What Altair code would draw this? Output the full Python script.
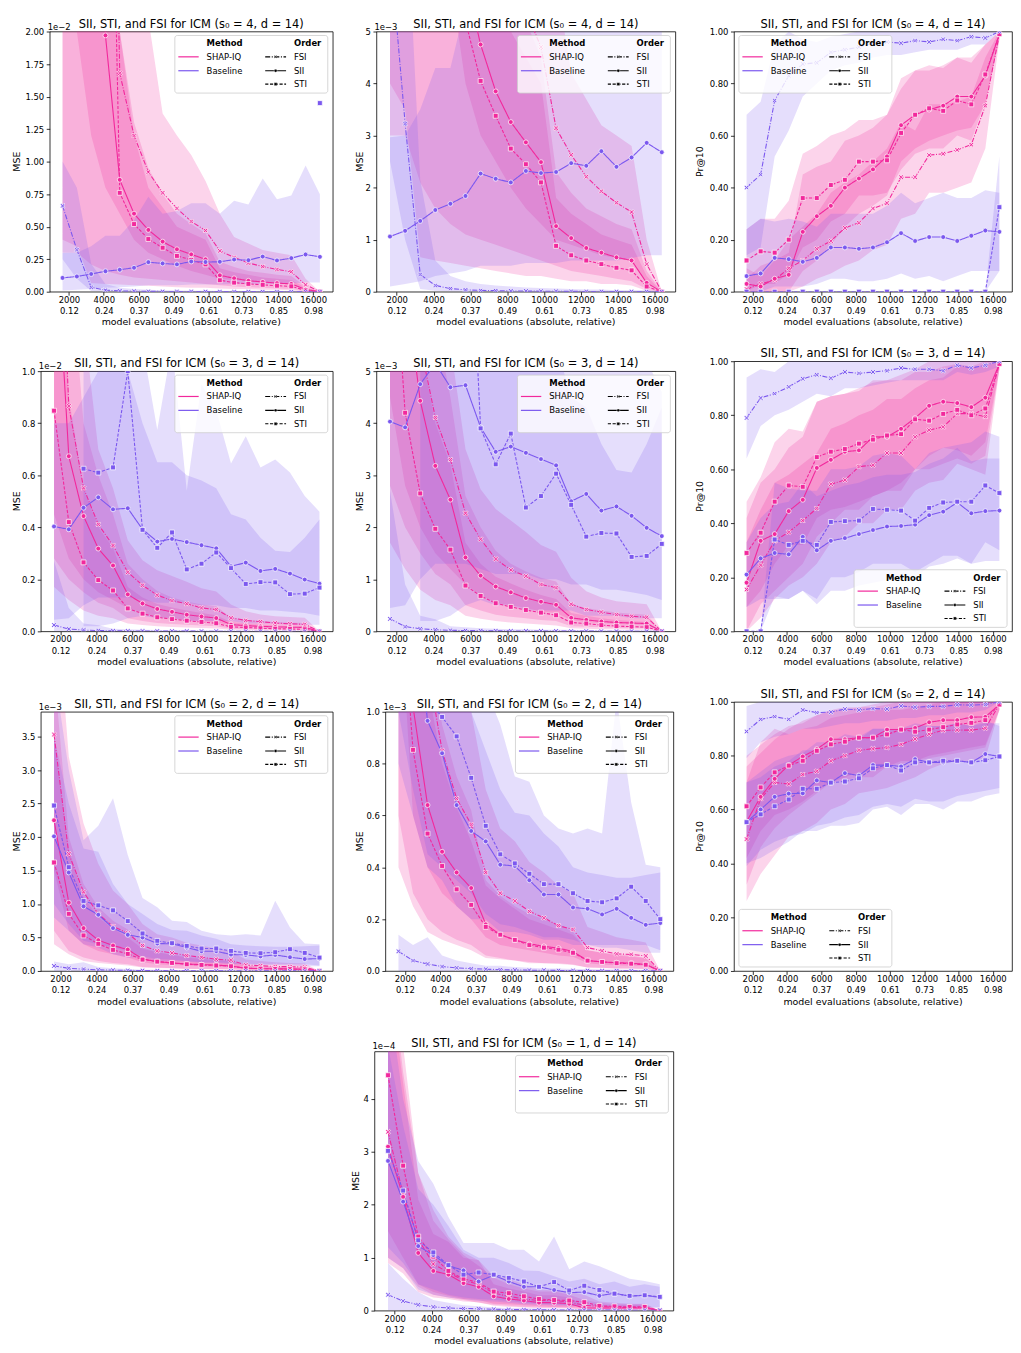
import altair as alt
import pandas as pd

FONT = "DejaVu Sans"
PINK = "#f2289c"
PURPLE = "#7b58ef"

# ---------------- shared axis data ----------------
BUDGETS = [1638, 2458, 3277, 4096, 4915, 5734, 6554, 7373, 8192, 9011,
           9830, 10650, 11469, 12288, 13107, 13926, 14746, 15565, 16384]
X_TICKS = [2000, 4000, 6000, 8000, 10000, 12000, 14000, 16000]
X_TICK_ABS = ["2000", "4000", "6000", "8000", "10000", "12000", "14000", "16000"]
X_TICK_REL = ["0.12", "0.24", "0.37", "0.49", "0.61", "0.73", "0.85", "0.98"]
METHODS = ["SHAP-IQ", "Baseline"]
METHOD_KEYS = ["SHAPIQ", "BASE"]
ORDERS = ["FSI", "SII", "STI"]

# ---------------- s0 = 4, MSE (units of 1e-3) ----------------
S4_MSE_SHAPIQ_FSI = [250, 180, 120, 70, 16.8, 12.0, 9.2, 7.6, 6.4, 5.4, 4.7, 3.14, 2.63, 2.21, 1.93, 1.71, 1.53, 0.53, 0.0]
S4_MSE_SHAPIQ_FSI_LO = [30, 20, 12, 8, 6.0, 4.0, 3.0, 2.5, 2.0, 1.6, 1.3, 1.0, 0.9, 0.8, 0.7, 0.65, 0.6, 0.15, 0.0]
S4_MSE_SHAPIQ_FSI_HI = [500, 400, 300, 150, 35, 26, 21, 13.7, 12.0, 10.5, 8.5, 6.0, 4.2, 3.7, 3.2, 3.0, 2.8, 1.0, 0.0]
S4_MSE_SHAPIQ_SII = [90, 60, 40, 19.7, 8.6, 6.0, 4.75, 3.85, 3.26, 2.87, 2.49, 1.26, 1.03, 0.84, 0.75, 0.66, 0.60, 0.17, 0.0]
S4_MSE_SHAPIQ_SII_LO = [3.0, 3.0, 2.1, 1.6, 1.3, 1.1, 1.0, 0.9, 0.8, 0.7, 0.6, 0.5, 0.4, 0.35, 0.3, 0.25, 0.2, 0.05, 0.0]
S4_MSE_SHAPIQ_SII_HI = [250, 180, 120, 60, 20, 13, 9.5, 7.5, 6.0, 5.2, 4.5, 2.3, 1.9, 1.6, 1.45, 1.3, 1.2, 0.4, 0.0]
S4_MSE_SHAPIQ_STI = [200, 140, 90, 60, 7.6, 5.2, 4.05, 3.38, 2.75, 2.45, 2.10, 0.88, 0.70, 0.60, 0.53, 0.46, 0.41, 0.10, 0.0]
S4_MSE_SHAPIQ_STI_LO = [4.0, 3.5, 0.66, 0.6, 0.55, 0.5, 0.45, 0.4, 0.35, 0.3, 0.3, 0.25, 0.2, 0.2, 0.15, 0.15, 0.12, 0.02, 0.0]
S4_MSE_SHAPIQ_STI_HI = [400, 300, 200, 120, 20, 12, 8.0, 6.5, 5.0, 4.5, 4.0, 1.8, 1.5, 1.3, 1.1, 1.0, 0.9, 0.3, 0.0]
S4_MSE_BASE_FSI = [6.6, 3.23, 0.33, 0.12, 0.06, 0.035, 0.025, 0.02, 0.015, 0.012, 0.01, 0.008, 0.006, 0.005, 0.004, 0.004, 0.003, 0.003, 0.002]
S4_MSE_BASE_FSI_LO = [2.5, 1.0, 0.05, 0.02, 0.01, 0.005, 0.003, 0.002, 0.002, 0.001, 0.001, 0.001, 0.001, 0.0, 0.0, 0.0, 0.0, 0.0, 0.0]
S4_MSE_BASE_FSI_HI = [10.0, 8.0, 2.15, 0.6, 0.3, 0.2, 0.15, 0.12, 0.1, 0.08, 0.07, 0.06, 0.05, 0.04, 0.04, 0.03, 0.03, 0.03, 0.02]
S4_MSE_BASE_SII = [1.06, 1.17, 1.36, 1.57, 1.69, 1.84, 2.27, 2.17, 2.10, 2.32, 2.28, 2.30, 2.47, 2.42, 2.70, 2.40, 2.58, 2.86, 2.68]
S4_MSE_BASE_SII_LO = [0.1, 0.15, 0.2, 0.3, 0.35, 0.4, 0.5, 0.5, 0.5, 0.55, 0.55, 0.55, 0.6, 0.6, 0.6, 0.6, 0.65, 0.7, 0.7]
S4_MSE_BASE_SII_HI = [2.97, 3.0, 3.5, 4.3, 4.3, 5.5, 7.3, 6.0, 6.2, 6.8, 6.8, 6.0, 7.0, 6.7, 8.7, 7.1, 7.4, 9.7, 7.5]
S4_MSE_BASE_STI = [None, None, None, None, None, None, None, None, None, None, None, None, None, None, None, None, None, None, 14.5]
S4_MSE_BASE_STI_LO = [None, None, None, None, None, None, None, None, None, None, None, None, None, None, None, None, None, None, 4.0]
S4_MSE_BASE_STI_HI = [None, None, None, None, None, None, None, None, None, None, None, None, None, None, None, None, None, None, 30.0]

# ---------------- s0 = 4, Pr@10 ----------------
S4_PR_SHAPIQ_FSI = [0.01, 0.03, 0.045, 0.09, 0.12, 0.165, 0.195, 0.245, 0.265, 0.32, 0.34, 0.44, 0.44, 0.525, 0.53, 0.545, 0.565, 0.715, 0.99]
S4_PR_SHAPIQ_FSI_LO = [0.0, 0.0, 0.0, 0.0, 0.02, 0.05, 0.07, 0.1, 0.12, 0.16, 0.18, 0.28, 0.3, 0.38, 0.38, 0.4, 0.42, 0.55, 0.97]
S4_PR_SHAPIQ_FSI_HI = [0.05, 0.1, 0.12, 0.2, 0.25, 0.3, 0.38, 0.42, 0.45, 0.5, 0.55, 0.65, 0.62, 0.72, 0.72, 0.73, 0.75, 0.9, 1.0]
S4_PR_SHAPIQ_SII = [0.03, 0.02, 0.05, 0.065, 0.23, 0.29, 0.33, 0.40, 0.435, 0.47, 0.52, 0.64, 0.68, 0.70, 0.715, 0.75, 0.75, 0.83, 0.99]
S4_PR_SHAPIQ_SII_LO = [0.0, 0.0, 0.0, 0.0, 0.08, 0.12, 0.18, 0.25, 0.3, 0.33, 0.37, 0.5, 0.55, 0.58, 0.6, 0.62, 0.63, 0.72, 0.97]
S4_PR_SHAPIQ_SII_HI = [0.09, 0.06, 0.12, 0.15, 0.45, 0.48, 0.5, 0.58, 0.6, 0.63, 0.68, 0.82, 0.85, 0.85, 0.87, 0.9, 0.9, 0.95, 1.0]
S4_PR_SHAPIQ_STI = [0.12, 0.155, 0.15, 0.20, 0.36, 0.36, 0.41, 0.43, 0.50, 0.50, 0.505, 0.61, 0.68, 0.705, 0.695, 0.735, 0.72, 0.835, 0.99]
S4_PR_SHAPIQ_STI_LO = [0.0, 0.03, 0.03, 0.07, 0.17, 0.2, 0.27, 0.3, 0.37, 0.37, 0.38, 0.47, 0.53, 0.55, 0.55, 0.6, 0.58, 0.73, 0.97]
S4_PR_SHAPIQ_STI_HI = [0.24, 0.28, 0.28, 0.35, 0.53, 0.56, 0.6, 0.62, 0.66, 0.66, 0.68, 0.78, 0.85, 0.87, 0.86, 0.9, 0.88, 0.95, 1.0]
S4_PR_BASE_FSI = [0.40, 0.45, 0.735, 0.83, 0.875, 0.88, 0.92, 0.93, 0.94, 0.955, 0.96, 0.955, 0.965, 0.96, 0.97, 0.965, 0.98, 0.975, 1.0]
S4_PR_BASE_FSI_LO = [0.14, 0.17, 0.52, 0.62, 0.75, 0.8, 0.85, 0.87, 0.88, 0.9, 0.91, 0.91, 0.92, 0.93, 0.93, 0.93, 0.95, 0.95, 1.0]
S4_PR_BASE_FSI_HI = [0.68, 0.73, 0.95, 1.0, 0.97, 0.96, 0.98, 0.99, 1.0, 1.0, 1.0, 1.0, 1.0, 1.0, 1.0, 1.0, 1.0, 1.0, 1.0]
S4_PR_BASE_SII = [0.06, 0.07, 0.13, 0.125, 0.115, 0.13, 0.17, 0.17, 0.165, 0.17, 0.19, 0.225, 0.195, 0.21, 0.21, 0.195, 0.215, 0.235, 0.23]
S4_PR_BASE_SII_LO = [0.0, 0.0, 0.02, 0.02, 0.02, 0.03, 0.05, 0.05, 0.04, 0.04, 0.05, 0.07, 0.05, 0.06, 0.04, 0.06, 0.08, 0.08, 0.08]
S4_PR_BASE_SII_HI = [0.24, 0.28, 0.27, 0.28, 0.27, 0.25, 0.3, 0.3, 0.3, 0.3, 0.33, 0.38, 0.34, 0.36, 0.38, 0.36, 0.36, 0.39, 0.38]
S4_PR_BASE_STI = [0.0, 0.0, 0.0, 0.0, 0.0, 0.0, 0.0, 0.0, 0.0, 0.0, 0.0, 0.0, 0.0, 0.0, 0.0, 0.0, 0.0, 0.0, 0.325]
S4_PR_BASE_STI_LO = [0.0, 0.0, 0.0, 0.0, 0.0, 0.0, 0.0, 0.0, 0.0, 0.0, 0.0, 0.0, 0.0, 0.0, 0.0, 0.0, 0.0, 0.0, 0.08]
S4_PR_BASE_STI_HI = [0.0, 0.0, 0.0, 0.0, 0.0, 0.0, 0.0, 0.0, 0.0, 0.0, 0.0, 0.0, 0.0, 0.0, 0.0, 0.0, 0.0, 0.0, 0.52]

# ---------------- s0 = 3, MSE (units of 1e-3) ----------------
S3_MSE_SHAPIQ_FSI = [22.0, 8.66, 5.51, 4.11, 3.30, 2.27, 1.77, 1.39, 1.18, 1.06, 0.90, 0.84, 0.52, 0.42, 0.37, 0.32, 0.29, 0.27, 0.0]
S3_MSE_SHAPIQ_FSI_LO = [4.5, 2.8, 2.0, 1.5, 1.2, 0.9, 0.7, 0.55, 0.5, 0.45, 0.38, 0.35, 0.22, 0.18, 0.16, 0.14, 0.13, 0.12, 0.0]
S3_MSE_SHAPIQ_FSI_HI = [45.0, 25.0, 12.0, 7.0, 5.5, 3.5, 2.73, 2.35, 2.13, 1.91, 1.66, 1.53, 1.03, 0.77, 0.65, 0.58, 0.55, 0.52, 0.0]
S3_MSE_SHAPIQ_SII = [16.6, 6.73, 4.43, 3.18, 2.53, 1.42, 1.07, 0.86, 0.75, 0.64, 0.57, 0.51, 0.26, 0.22, 0.19, 0.17, 0.16, 0.15, 0.0]
S3_MSE_SHAPIQ_SII_LO = [2.8, 2.0, 1.5, 1.1, 0.9, 0.5, 0.4, 0.32, 0.28, 0.25, 0.22, 0.2, 0.1, 0.09, 0.08, 0.07, 0.06, 0.06, 0.0]
S3_MSE_SHAPIQ_SII_HI = [35.0, 15.0, 8.0, 6.0, 4.5, 2.6, 2.0, 1.55, 1.3, 1.15, 1.03, 0.96, 0.52, 0.45, 0.4, 0.36, 0.34, 0.32, 0.0]
S3_MSE_SHAPIQ_STI = [8.48, 4.2, 2.65, 1.97, 1.57, 0.88, 0.68, 0.54, 0.47, 0.41, 0.36, 0.31, 0.17, 0.15, 0.12, 0.10, 0.09, 0.08, 0.0]
S3_MSE_SHAPIQ_STI_LO = [1.7, 1.2, 0.8, 0.6, 0.5, 0.3, 0.24, 0.2, 0.17, 0.15, 0.13, 0.11, 0.06, 0.05, 0.04, 0.04, 0.03, 0.03, 0.0]
S3_MSE_SHAPIQ_STI_HI = [20.0, 9.0, 5.5, 4.0, 3.2, 1.7, 1.3, 1.05, 0.92, 0.8, 0.7, 0.62, 0.35, 0.3, 0.25, 0.22, 0.2, 0.18, 0.0]
S3_MSE_BASE_FSI = [0.24, 0.09, 0.05, 0.03, 0.02, 0.015, 0.012, 0.01, 0.008, 0.007, 0.006, 0.005, 0.004, 0.004, 0.003, 0.003, 0.003, 0.002, 0.002]
S3_MSE_BASE_FSI_LO = [0.0, 0.0, 0.0, 0.0, 0.0, 0.0, 0.0, 0.0, 0.0, 0.0, 0.0, 0.0, 0.0, 0.0, 0.0, 0.0, 0.0, 0.0, 0.0]
S3_MSE_BASE_FSI_HI = [2.7, 0.9, 0.3, 0.23, 0.1, 0.08, 0.06, 0.05, 0.04, 0.04, 0.03, 0.03, 0.03, 0.02, 0.02, 0.02, 0.02, 0.02, 0.01]
S3_MSE_BASE_SII = [4.03, 3.92, 4.75, 5.15, 4.69, 4.73, 3.92, 3.45, 3.55, 3.43, 3.31, 3.19, 2.50, 2.64, 2.32, 2.40, 2.22, 1.99, 1.83]
S3_MSE_BASE_SII_LO = [0.45, 0.5, 1.0, 1.3, 1.3, 1.3, 1.2, 1.1, 1.1, 1.1, 1.0, 1.0, 0.9, 0.9, 0.8, 0.8, 0.75, 0.7, 0.6]
S3_MSE_BASE_SII_HI = [8.0, 8.0, 9.0, 10.0, 10.0, 10.0, 8.0, 6.5, 6.5, 6.0, 5.8, 5.5, 4.5, 4.3, 3.6, 3.1, 3.05, 3.6, 4.3]
S3_MSE_BASE_STI = [None, None, 6.25, 6.1, 6.3, 10.0, 3.90, 3.21, 3.80, 2.38, 2.60, 3.03, 2.43, 1.82, 1.89, 1.88, 1.43, 1.45, 1.68]
S3_MSE_BASE_STI_LO = [None, None, 0.2, 0.2, 0.3, 0.5, 0.6, 0.5, 0.5, 0.4, 0.4, 0.4, 0.4, 0.3, 0.3, 0.3, 0.25, 0.25, 0.25]
S3_MSE_BASE_STI_HI = [None, None, 14.0, 14.0, 14.0, 16.0, 11.0, 7.75, 11.0, 5.4, 9.5, 8.5, 6.45, 7.5, 6.3, 6.6, 6.1, 5.2, 4.6]

# ---------------- s0 = 3, Pr@10 ----------------
S3_PR_SHAPIQ_FSI = [0.155, 0.245, 0.335, 0.367, 0.41, 0.455, 0.545, 0.56, 0.61, 0.615, 0.66, 0.66, 0.72, 0.745, 0.757, 0.806, 0.806, 0.795, 0.99]
S3_PR_SHAPIQ_FSI_LO = [0.0, 0.05, 0.12, 0.17, 0.2, 0.25, 0.33, 0.35, 0.4, 0.4, 0.45, 0.45, 0.52, 0.55, 0.56, 0.62, 0.6, 0.58, 0.97]
S3_PR_SHAPIQ_FSI_HI = [0.33, 0.45, 0.55, 0.58, 0.62, 0.66, 0.75, 0.77, 0.8, 0.82, 0.86, 0.86, 0.9, 0.93, 0.94, 0.98, 0.98, 0.98, 1.0]
S3_PR_SHAPIQ_SII = [0.18, 0.335, 0.36, 0.445, 0.487, 0.605, 0.635, 0.665, 0.67, 0.72, 0.72, 0.75, 0.79, 0.835, 0.85, 0.845, 0.83, 0.865, 0.99]
S3_PR_SHAPIQ_SII_LO = [0.0, 0.1, 0.15, 0.2, 0.25, 0.35, 0.4, 0.45, 0.45, 0.5, 0.52, 0.55, 0.6, 0.65, 0.68, 0.67, 0.65, 0.7, 0.97]
S3_PR_SHAPIQ_SII_HI = [0.42, 0.55, 0.6, 0.68, 0.72, 0.85, 0.87, 0.88, 0.89, 0.93, 0.93, 0.95, 0.97, 1.0, 1.0, 1.0, 1.0, 1.0, 1.0]
S3_PR_SHAPIQ_STI = [0.29, 0.365, 0.48, 0.54, 0.535, 0.645, 0.665, 0.675, 0.695, 0.71, 0.725, 0.73, 0.785, 0.78, 0.805, 0.82, 0.80, 0.825, 0.99]
S3_PR_SHAPIQ_STI_LO = [0.09, 0.15, 0.25, 0.32, 0.32, 0.42, 0.45, 0.46, 0.48, 0.5, 0.52, 0.52, 0.6, 0.6, 0.62, 0.64, 0.62, 0.65, 0.97]
S3_PR_SHAPIQ_STI_HI = [0.48, 0.57, 0.7, 0.75, 0.74, 0.85, 0.87, 0.88, 0.9, 0.92, 0.93, 0.93, 0.96, 0.96, 0.98, 0.99, 0.98, 1.0, 1.0]
S3_PR_BASE_FSI = [0.79, 0.864, 0.88, 0.905, 0.935, 0.95, 0.937, 0.96, 0.955, 0.96, 0.965, 0.975, 0.97, 0.97, 0.965, 0.985, 0.975, 0.985, 1.0]
S3_PR_BASE_FSI_LO = [0.64, 0.76, 0.8, 0.82, 0.85, 0.88, 0.87, 0.9, 0.9, 0.91, 0.92, 0.93, 0.93, 0.93, 0.93, 0.96, 0.95, 0.96, 0.98]
S3_PR_BASE_FSI_HI = [0.94, 0.97, 0.96, 1.0, 1.0, 1.0, 1.0, 1.0, 1.0, 1.0, 1.0, 1.0, 1.0, 1.0, 1.0, 1.0, 1.0, 1.0, 1.0]
S3_PR_BASE_SII = [0.21, 0.27, 0.29, 0.285, 0.35, 0.30, 0.335, 0.345, 0.36, 0.375, 0.388, 0.39, 0.395, 0.43, 0.443, 0.477, 0.437, 0.445, 0.447]
S3_PR_BASE_SII_LO = [0.09, 0.12, 0.12, 0.12, 0.15, 0.1, 0.15, 0.15, 0.17, 0.18, 0.19, 0.2, 0.2, 0.24, 0.25, 0.27, 0.25, 0.26, 0.26]
S3_PR_BASE_SII_HI = [0.33, 0.42, 0.47, 0.48, 0.55, 0.5, 0.52, 0.54, 0.55, 0.57, 0.58, 0.58, 0.59, 0.62, 0.64, 0.68, 0.63, 0.64, 0.64]
S3_PR_BASE_STI = [0.0, 0.0, 0.34, 0.32, 0.335, 0.32, 0.405, 0.408, 0.41, 0.453, 0.45, 0.447, 0.41, 0.457, 0.477, 0.48, 0.48, 0.54, 0.512]
S3_PR_BASE_STI_LO = [0.0, 0.0, 0.13, 0.12, 0.15, 0.12, 0.2, 0.2, 0.22, 0.25, 0.25, 0.25, 0.22, 0.25, 0.28, 0.28, 0.25, 0.33, 0.3]
S3_PR_BASE_STI_HI = [0.0, 0.0, 0.55, 0.53, 0.52, 0.52, 0.6, 0.6, 0.61, 0.65, 0.66, 0.65, 0.6, 0.66, 0.68, 0.69, 0.7, 0.74, 0.72]

# ---------------- s0 = 2, MSE (units of 1e-3) ----------------
S2_MSE_SHAPIQ_FSI = [3.53, 1.75, 1.18, 0.85, 0.665, 0.565, 0.38, 0.30, 0.27, 0.23, 0.205, 0.175, 0.16, 0.09, 0.078, 0.066, 0.064, 0.058, 0.0]
S2_MSE_SHAPIQ_FSI_LO = [1.5, 0.6, 0.4, 0.3, 0.25, 0.2, 0.13, 0.1, 0.09, 0.08, 0.07, 0.06, 0.055, 0.03, 0.025, 0.022, 0.02, 0.02, 0.0]
S2_MSE_SHAPIQ_FSI_HI = [6.0, 3.2, 2.2, 1.6, 1.2, 1.0, 0.7, 0.55, 0.5, 0.42, 0.38, 0.33, 0.3, 0.17, 0.15, 0.13, 0.12, 0.11, 0.0]
S2_MSE_SHAPIQ_SII = [2.25, 1.02, 0.64, 0.46, 0.38, 0.32, 0.18, 0.14, 0.12, 0.105, 0.095, 0.088, 0.075, 0.04, 0.035, 0.032, 0.03, 0.025, 0.0]
S2_MSE_SHAPIQ_SII_LO = [0.6, 0.3, 0.2, 0.15, 0.12, 0.1, 0.06, 0.05, 0.04, 0.035, 0.03, 0.03, 0.025, 0.013, 0.012, 0.01, 0.01, 0.008, 0.0]
S2_MSE_SHAPIQ_SII_HI = [4.5, 2.0, 1.3, 0.95, 0.75, 0.62, 0.35, 0.29, 0.25, 0.22, 0.2, 0.18, 0.15, 0.08, 0.07, 0.065, 0.06, 0.05, 0.0]
S2_MSE_SHAPIQ_STI = [1.62, 0.853, 0.53, 0.405, 0.315, 0.255, 0.17, 0.14, 0.12, 0.10, 0.09, 0.082, 0.07, 0.04, 0.035, 0.03, 0.028, 0.024, 0.0]
S2_MSE_SHAPIQ_STI_LO = [0.4, 0.25, 0.15, 0.12, 0.1, 0.08, 0.05, 0.045, 0.04, 0.03, 0.03, 0.027, 0.023, 0.013, 0.011, 0.01, 0.009, 0.008, 0.0]
S2_MSE_SHAPIQ_STI_HI = [3.5, 1.8, 1.1, 0.8, 0.63, 0.5, 0.33, 0.28, 0.24, 0.2, 0.18, 0.16, 0.14, 0.08, 0.07, 0.06, 0.055, 0.05, 0.0]
S2_MSE_BASE_FSI = [0.076, 0.04, 0.027, 0.017, 0.012, 0.009, 0.007, 0.005, 0.004, 0.003, 0.003, 0.002, 0.002, 0.002, 0.001, 0.001, 0.001, 0.001, 0.001]
S2_MSE_BASE_FSI_LO = [0.0, 0.0, 0.0, 0.0, 0.0, 0.0, 0.0, 0.0, 0.0, 0.0, 0.0, 0.0, 0.0, 0.0, 0.0, 0.0, 0.0, 0.0, 0.0]
S2_MSE_BASE_FSI_HI = [0.14, 0.1, 0.13, 0.06, 0.04, 0.03, 0.02, 0.02, 0.015, 0.012, 0.01, 0.01, 0.008, 0.008, 0.006, 0.006, 0.005, 0.005, 0.005]
S2_MSE_BASE_SII = [2.01, 1.47, 0.965, 0.84, 0.64, 0.54, 0.50, 0.41, 0.405, 0.35, 0.295, 0.295, 0.245, 0.24, 0.218, 0.24, 0.205, 0.178, 0.185]
S2_MSE_BASE_SII_LO = [0.8, 0.6, 0.4, 0.35, 0.25, 0.2, 0.2, 0.15, 0.15, 0.14, 0.12, 0.12, 0.1, 0.1, 0.09, 0.09, 0.08, 0.07, 0.07]
S2_MSE_BASE_SII_HI = [3.5, 2.5, 1.83, 1.78, 1.3, 1.0, 0.85, 0.7, 0.61, 0.6, 0.53, 0.48, 0.4, 0.38, 0.37, 0.36, 0.36, 0.37, 0.38]
S2_MSE_BASE_STI = [2.47, 1.55, 1.045, 0.98, 0.905, 0.745, 0.56, 0.45, 0.415, 0.375, 0.335, 0.335, 0.30, 0.27, 0.265, 0.28, 0.325, 0.27, 0.20]
S2_MSE_BASE_STI_LO = [1.0, 0.7, 0.45, 0.4, 0.35, 0.3, 0.22, 0.18, 0.17, 0.15, 0.13, 0.13, 0.12, 0.1, 0.1, 0.1, 0.1, 0.1, 0.08]
S2_MSE_BASE_STI_HI = [4.5, 3.0, 1.95, 2.17, 2.58, 1.73, 1.09, 0.95, 0.75, 0.73, 0.6, 0.55, 0.53, 0.55, 0.53, 1.05, 0.65, 0.41, 0.4]

# ---------------- s0 = 2, Pr@10 ----------------
S2_PR_SHAPIQ_FSI = [0.49, 0.64, 0.70, 0.695, 0.73, 0.742, 0.781, 0.80, 0.82, 0.826, 0.83, 0.842, 0.862, 0.88, 0.894, 0.895, 0.895, 0.902, 0.99]
S2_PR_SHAPIQ_FSI_LO = [0.26, 0.36, 0.43, 0.5, 0.52, 0.55, 0.6, 0.62, 0.66, 0.67, 0.68, 0.7, 0.72, 0.75, 0.77, 0.78, 0.78, 0.79, 0.97]
S2_PR_SHAPIQ_FSI_HI = [0.7, 0.85, 0.9, 0.88, 0.9, 0.91, 0.94, 0.95, 0.96, 0.97, 0.97, 0.97, 0.98, 0.99, 1.0, 1.0, 1.0, 1.0, 1.0]
S2_PR_SHAPIQ_SII = [0.555, 0.647, 0.714, 0.765, 0.797, 0.824, 0.861, 0.861, 0.867, 0.867, 0.897, 0.897, 0.903, 0.924, 0.932, 0.932, 0.943, 0.944, 0.99]
S2_PR_SHAPIQ_SII_LO = [0.32, 0.46, 0.53, 0.58, 0.62, 0.66, 0.7, 0.71, 0.72, 0.72, 0.76, 0.77, 0.78, 0.8, 0.81, 0.82, 0.83, 0.84, 0.97]
S2_PR_SHAPIQ_SII_HI = [0.76, 0.81, 0.86, 0.9, 0.93, 0.95, 0.97, 0.98, 0.98, 0.99, 1.0, 1.0, 1.0, 1.0, 1.0, 1.0, 1.0, 1.0, 1.0]
S2_PR_SHAPIQ_STI = [0.612, 0.682, 0.738, 0.763, 0.781, 0.818, 0.842, 0.852, 0.867, 0.867, 0.879, 0.897, 0.889, 0.897, 0.906, 0.916, 0.922, 0.932, 0.99]
S2_PR_SHAPIQ_STI_LO = [0.42, 0.52, 0.58, 0.6, 0.63, 0.67, 0.7, 0.72, 0.74, 0.74, 0.76, 0.78, 0.78, 0.79, 0.8, 0.81, 0.82, 0.83, 0.97]
S2_PR_SHAPIQ_STI_HI = [0.8, 0.84, 0.88, 0.91, 0.92, 0.95, 0.97, 0.97, 0.98, 0.98, 0.99, 1.0, 1.0, 1.0, 1.0, 1.0, 1.0, 1.0, 1.0]
S2_PR_BASE_FSI = [0.89, 0.935, 0.945, 0.935, 0.97, 0.96, 0.962, 0.973, 0.97, 0.975, 0.973, 0.985, 0.98, 0.983, 0.983, 0.989, 0.988, 0.99, 1.0]
S2_PR_BASE_FSI_LO = [0.79, 0.85, 0.87, 0.88, 0.9, 0.9, 0.91, 0.92, 0.92, 0.93, 0.93, 0.94, 0.94, 0.95, 0.95, 0.96, 0.96, 0.97, 1.0]
S2_PR_BASE_FSI_HI = [0.985, 1.0, 1.0, 1.0, 1.0, 1.0, 1.0, 1.0, 1.0, 1.0, 1.0, 1.0, 1.0, 1.0, 1.0, 1.0, 1.0, 1.0, 1.0]
S2_PR_BASE_SII = [0.553, 0.60, 0.647, 0.659, 0.66, 0.708, 0.70, 0.735, 0.726, 0.765, 0.765, 0.76, 0.787, 0.775, 0.775, 0.781, 0.775, 0.806, 0.797]
S2_PR_BASE_SII_LO = [0.39, 0.45, 0.48, 0.5, 0.51, 0.54, 0.55, 0.57, 0.58, 0.61, 0.62, 0.61, 0.64, 0.63, 0.63, 0.65, 0.66, 0.67, 0.68]
S2_PR_BASE_SII_HI = [0.7, 0.74, 0.78, 0.8, 0.81, 0.85, 0.85, 0.88, 0.87, 0.9, 0.9, 0.9, 0.92, 0.91, 0.91, 0.92, 0.91, 0.93, 0.91]
S2_PR_BASE_STI = [0.553, 0.582, 0.612, 0.637, 0.677, 0.677, 0.70, 0.704, 0.716, 0.753, 0.765, 0.745, 0.775, 0.775, 0.781, 0.781, 0.775, 0.783, 0.797]
S2_PR_BASE_STI_LO = [0.4, 0.42, 0.45, 0.48, 0.52, 0.52, 0.54, 0.54, 0.55, 0.6, 0.61, 0.58, 0.62, 0.62, 0.6, 0.63, 0.63, 0.65, 0.66]
S2_PR_BASE_STI_HI = [0.7, 0.72, 0.76, 0.78, 0.82, 0.82, 0.84, 0.85, 0.86, 0.9, 0.9, 0.89, 0.91, 0.91, 0.91, 0.92, 0.91, 0.92, 0.92]

# ---------------- s0 = 1, MSE (units of 1e-4) ----------------
S1_MSE_SHAPIQ_FSI = [3.38, 2.2, 1.35, 0.88, 0.72, 0.57, 0.50, 0.33, 0.27, 0.22, 0.19, 0.19, 0.16, 0.10, 0.08, 0.06, 0.06, 0.06, 0.0]
S1_MSE_SHAPIQ_FSI_LO = [1.0, 0.8, 0.45, 0.3, 0.25, 0.2, 0.15, 0.11, 0.09, 0.07, 0.06, 0.06, 0.05, 0.03, 0.025, 0.02, 0.02, 0.02, 0.0]
S1_MSE_SHAPIQ_FSI_HI = [7.0, 4.5, 2.6, 1.7, 1.35, 1.05, 0.85, 0.62, 0.5, 0.42, 0.36, 0.36, 0.3, 0.2, 0.15, 0.12, 0.12, 0.12, 0.0]
S1_MSE_SHAPIQ_SII = [3.1, 2.15, 1.09, 0.75, 0.68, 0.52, 0.45, 0.27, 0.22, 0.19, 0.15, 0.15, 0.13, 0.05, 0.05, 0.05, 0.05, 0.05, 0.0]
S1_MSE_SHAPIQ_SII_LO = [0.9, 0.7, 0.35, 0.25, 0.22, 0.17, 0.16, 0.09, 0.07, 0.06, 0.05, 0.05, 0.04, 0.015, 0.015, 0.015, 0.015, 0.015, 0.0]
S1_MSE_SHAPIQ_SII_HI = [6.5, 4.3, 2.1, 1.45, 1.3, 1.0, 0.95, 0.5, 0.42, 0.36, 0.29, 0.29, 0.25, 0.1, 0.1, 0.1, 0.1, 0.1, 0.0]
S1_MSE_SHAPIQ_STI = [4.45, 2.74, 1.40, 1.02, 0.75, 0.60, 0.53, 0.36, 0.33, 0.27, 0.22, 0.20, 0.19, 0.16, 0.09, 0.08, 0.07, 0.07, 0.0]
S1_MSE_SHAPIQ_STI_LO = [1.5, 1.0, 0.5, 0.35, 0.28, 0.22, 0.2, 0.13, 0.12, 0.1, 0.08, 0.07, 0.07, 0.06, 0.03, 0.03, 0.025, 0.025, 0.0]
S1_MSE_SHAPIQ_STI_HI = [9.0, 5.0, 2.6, 1.9, 1.4, 1.1, 0.95, 0.65, 0.6, 0.5, 0.4, 0.38, 0.35, 0.3, 0.17, 0.15, 0.13, 0.13, 0.0]
S1_MSE_BASE_FSI = [0.30, 0.18, 0.11, 0.07, 0.05, 0.04, 0.035, 0.025, 0.02, 0.018, 0.015, 0.013, 0.012, 0.01, 0.01, 0.01, 0.008, 0.008, 0.008]
S1_MSE_BASE_FSI_LO = [0.0, 0.0, 0.0, 0.0, 0.0, 0.0, 0.0, 0.0, 0.0, 0.0, 0.0, 0.0, 0.0, 0.0, 0.0, 0.0, 0.0, 0.0, 0.0]
S1_MSE_BASE_FSI_HI = [0.9, 0.6, 0.35, 0.2, 0.15, 0.1, 0.08, 0.06, 0.05, 0.05, 0.04, 0.04, 0.03, 0.03, 0.03, 0.03, 0.02, 0.02, 0.02]
S1_MSE_BASE_SII = [2.83, 2.06, 1.22, 1.05, 0.85, 0.76, 0.55, 0.67, 0.55, 0.45, 0.45, 0.39, 0.34, 0.35, 0.28, 0.33, 0.27, 0.29, 0.25]
S1_MSE_BASE_SII_LO = [1.0, 0.8, 0.4, 0.3, 0.25, 0.22, 0.18, 0.17, 0.15, 0.12, 0.11, 0.1, 0.09, 0.08, 0.07, 0.07, 0.06, 0.06, 0.05]
S1_MSE_BASE_SII_HI = [5.0, 3.5, 2.3, 2.0, 1.6, 1.15, 1.0, 1.0, 0.9, 0.76, 0.75, 0.65, 0.55, 0.6, 0.5, 0.55, 0.45, 0.5, 0.45]
S1_MSE_BASE_STI = [3.02, 2.27, 1.33, 1.10, 0.86, 0.68, 0.72, 0.68, 0.62, 0.55, 0.45, 0.54, 0.38, 0.47, 0.39, 0.32, 0.28, 0.29, 0.26]
S1_MSE_BASE_STI_LO = [1.2, 0.9, 0.5, 0.4, 0.3, 0.25, 0.22, 0.2, 0.18, 0.15, 0.13, 0.12, 0.1, 0.1, 0.09, 0.08, 0.07, 0.07, 0.06]
S1_MSE_BASE_STI_HI = [6.0, 4.0, 2.83, 2.4, 1.77, 1.28, 1.28, 1.28, 1.15, 1.15, 0.93, 1.4, 0.78, 0.93, 0.84, 0.72, 0.6, 0.56, 0.5]

# ---------------- styling helpers ----------------
X_DOMAIN = [901, 17121]
LABEL_EXPR = (
    "[" + ",".join("['%s','%s']" % (a, r) for a, r in zip(X_TICK_ABS, X_TICK_REL)) + "]"
    + "[indexof([" + ",".join(str(t) for t in X_TICKS) + "], datum.value)]"
)
X_PATH = "M-1,-0.6L-0.6,-1L0,-0.4L0.6,-1L1,-0.6L0.4,0L1,0.6L0.6,1L0,0.4L-0.6,1L-1,0.6L-0.4,0Z"
DASH_RANGE = [[5, 1.6, 1, 1.6], [1, 0], [3.2, 1.6]]
SHAPE_RANGE = [X_PATH, "circle", "square"]
DUMMY = pd.DataFrame({"k": [0]})
X_TITLE = "model evaluations (absolute, relative)"


def series_frame(prefix, scale):
    g = globals()
    rows = []
    for mkey, mname in zip(METHOD_KEYS, METHODS):
        for order in ORDERS:
            name = prefix + "_" + mkey + "_" + order
            mean, lo, hi = g[name], g[name + "_LO"], g[name + "_HI"]
            for x, m, l, h in zip(BUDGETS, mean, lo, hi):
                rows.append({
                    "x": x, "method": mname, "order": order,
                    "mean": None if m is None else m / scale,
                    "lo": None if l is None else l / scale,
                    "hi": None if h is None else h / scale,
                })
    return pd.DataFrame(rows)


def d_text(text, x, y, size, weight="normal", align="left", angle=0):
    return alt.Chart(DUMMY).mark_text(
        text=text, font=FONT, fontSize=size, fontWeight=weight, align=align,
        baseline="middle", color="black", angle=angle
    ).encode(x=alt.value(x), y=alt.value(y))


def d_rule(x1, x2, y, color, width=1.0, dash=None):
    kw = dict(color=color, strokeWidth=width)
    if dash is not None:
        kw["strokeDash"] = dash
    return alt.Chart(DUMMY).mark_rule(**kw).encode(x=alt.value(x1), x2=alt.value(x2), y=alt.value(y))


def d_point(x, y, shape, size):
    return alt.Chart(DUMMY).mark_point(
        shape=shape, size=size, filled=True, color="black", opacity=1, stroke="white", strokeWidth=0.4
    ).encode(x=alt.value(x), y=alt.value(y))


def d_box(x1, y1, x2, y2):
    return alt.Chart(DUMMY).mark_rect(
        fill="white", fillOpacity=0.8, stroke="#cccccc", strokeWidth=0.8, cornerRadius=2.5
    ).encode(x=alt.value(x1), x2=alt.value(x2), y=alt.value(y1), y2=alt.value(y2))


LEG_W, LEG_H = 154, 58


def legend_layers(pos, W, H):
    bx = 5 if pos in ("tl", "bl") else W - 5 - LEG_W
    by = 4 if pos in ("tl", "tr") else H - 4 - LEG_H
    rows_y = [by + 21.5, by + 35.5, by + 49.0]
    out = [d_box(bx, by, bx + LEG_W, by + LEG_H),
           d_text("Method", bx + 32, by + 8, 8.5, "bold"),
           d_text("Order", bx + 120, by + 8, 8.5, "bold")]
    for mname, col, y in zip(METHODS, [PINK, PURPLE], rows_y[:2]):
        out.append(d_rule(bx + 3.5, bx + 24, y, col, 1.2))
        out.append(d_text(mname, bx + 32, y, 8.5))
    for order, dash, shape, y in zip(ORDERS, DASH_RANGE, SHAPE_RANGE, rows_y):
        out.append(d_rule(bx + 91, bx + 112, y, "black", 1.1, dash))
        out.append(d_point(bx + 101.5, y, shape, 9))
        out.append(d_text(order, bx + 120, y, 8.5))
    return out


def make_panel(c):
    W, H = c["W"], c["H"]
    df = series_frame(c["prefix"], c["scale"])
    xaxis = alt.Axis(values=X_TICKS, labelExpr=LABEL_EXPR, labelAngle=0, title=None,
                     tickSize=3.5, labelPadding=0, labelLineHeight=11.5,
                     labelFlush=False, labelOverlap=False)
    yaxis = alt.Axis(values=c["yticks"], format=c["fmt"], title=None, tickSize=3.5,
                     labelPadding=2.5, labelFlush=False, labelOverlap=False)
    xs = alt.Scale(domain=X_DOMAIN, nice=False, zero=False)
    ys = alt.Scale(domain=[0, c["ymax"]], nice=False, zero=False)
    cscale = alt.Scale(domain=METHODS, range=[PINK, PURPLE])
    base = alt.Chart(df)
    band = base.mark_area(opacity=0.2, clip=True).encode(
        x=alt.X("x:Q", scale=xs, axis=xaxis),
        y=alt.Y("lo:Q", scale=ys, axis=yaxis, stack=None),
        y2="hi:Q",
        color=alt.Color("method:N", scale=cscale, legend=None),
        detail="order:N",
    )
    line = base.mark_line(strokeWidth=1.1, clip=True).encode(
        x=alt.X("x:Q", scale=xs, axis=xaxis),
        y=alt.Y("mean:Q", scale=ys, axis=yaxis),
        color=alt.Color("method:N", scale=cscale, legend=None),
        strokeDash=alt.StrokeDash("order:N", scale=alt.Scale(domain=ORDERS, range=DASH_RANGE), legend=None),
        detail="order:N",
    )
    pts = base.mark_point(filled=True, size=24, stroke="white", strokeWidth=0.7, opacity=1, clip=True).encode(
        x=alt.X("x:Q", scale=xs, axis=xaxis),
        y=alt.Y("mean:Q", scale=ys, axis=yaxis),
        fill=alt.Fill("method:N", scale=cscale, legend=None),
        shape=alt.Shape("order:N", scale=alt.Scale(domain=ORDERS, range=SHAPE_RANGE), legend=None),
    )
    title = "SII, STI, and FSI for ICM (s\u2080 = %d, d = 14)" % c["s0"]
    deco = [d_text(title, W / 2, -7, 11.5, align="center"),
            d_text(c["ytitle"], -c["D"], H / 2, 9.5, align="center", angle=270),
            d_text(X_TITLE, W / 2, H + 31, 9.5, align="center")]
    if c["offset"]:
        deco.append(d_text(c["offset"], -2, -5, 8.5))
    deco += legend_layers(c["legend"], W, H)
    # invisible layout anchors (white on white) that fix the cell extents
    deco.append(d_rule(-c["L"] + 0.5, -c["L"] + 1.5, -c["T"] + 0.5, "white"))
    deco.append(d_rule(c["R"] - 1.5, c["R"] - 0.5, c["B"] - 0.5, "white"))
    return alt.layer(band, line, pts, *deco).properties(width=W, height=H)


def spacer():
    return alt.Chart(DUMMY).mark_rule(color="white", strokeWidth=1).encode(
        x=alt.value(0.0), x2=alt.value(1.0), y=alt.value(0.5)
    ).properties(width=1, height=1, view=alt.ViewBackground(stroke="transparent", strokeWidth=0))


T2 = [0, 0.25, 0.5, 0.75, 1.0, 1.25, 1.5, 1.75, 2.0]
T5 = [0, 1, 2, 3, 4, 5]
T1 = [0, 0.2, 0.4, 0.6, 0.8, 1.0]
T35 = [0, 0.5, 1.0, 1.5, 2.0, 2.5, 3.0, 3.5]
T4 = [0, 1, 2, 3, 4]

PANELS = [
    dict(prefix="S4_MSE", scale=10, ymax=2.0, yticks=T2, fmt=".2f", offset="1e\u22122", ytitle="MSE", s0=4,
         legend="tr", W=285, H=262, D=33, L=38, T=17, R=302, B=300),
    dict(prefix="S4_MSE", scale=1, ymax=5.0, yticks=T5, fmt="d", offset="1e\u22123", ytitle="MSE", s0=4,
         legend="tr", W=301, H=262, D=17, L=25, T=17, R=307, B=300),
    dict(prefix="S4_PR", scale=1, ymax=1.0, yticks=T1, fmt=".2f", offset="", ytitle="Pr@10", s0=4,
         legend="tl", W=280, H=262, D=34, L=51, T=17, R=280, B=300),
    dict(prefix="S3_MSE", scale=10, ymax=1.0, yticks=T1, fmt=".1f", offset="1e\u22122", ytitle="MSE", s0=3,
         legend="tr", W=294, H=262, D=24, L=29, T=40, R=302, B=309),
    dict(prefix="S3_MSE", scale=1, ymax=5.0, yticks=T5, fmt="d", offset="1e\u22123", ytitle="MSE", s0=3,
         legend="tr", W=301, H=262, D=17, L=34, T=40, R=307, B=309),
    dict(prefix="S3_PR", scale=1, ymax=1.0, yticks=T1, fmt=".2f", offset="", ytitle="Pr@10", s0=3,
         legend="br", W=280, H=272, D=34, L=51, T=30, R=280, B=309),
    dict(prefix="S2_MSE", scale=1, ymax=3.87, yticks=T35, fmt=".1f", offset="1e\u22123", ytitle="MSE", s0=2,
         legend="tr", W=294, H=261, D=24, L=29, T=32, R=302, B=308),
    dict(prefix="S2_MSE", scale=1, ymax=1.0, yticks=T1, fmt=".1f", offset="1e\u22123", ytitle="MSE", s0=2,
         legend="tr", W=290, H=261, D=26, L=43, T=32, R=307, B=308),
    dict(prefix="S2_PR", scale=1, ymax=1.0, yticks=T1, fmt=".2f", offset="", ytitle="Pr@10", s0=2,
         legend="bl", W=280, H=271, D=34, L=42, T=32, R=280, B=308),
    dict(prefix="S1_MSE", scale=1, ymax=4.9, yticks=T4, fmt="d", offset="1e\u22124", ytitle="MSE", s0=1,
         legend="tr", W=301, H=261, D=19, L=61, T=32, R=301, B=296),
]

P = [make_panel(c) for c in PANELS]

cells = [spacer(), spacer(), spacer(), spacer(),
         spacer(), P[0], P[1], P[2],
         spacer(), P[3], P[4], P[5],
         spacer(), P[6], P[7], P[8],
         spacer(), spacer(), P[9]]

chart = alt.concat(*cells, columns=4, spacing=0, align="none", bounds="full").properties(
    padding={"left": 0, "top": 0, "right": 0, "bottom": 0}
).configure_view(
    stroke="black", strokeWidth=0.8
).configure_axis(
    labelFont=FONT, labelFontSize=8.5, labelColor="black", tickColor="black", tickWidth=0.8,
    domain=False, grid=False
)

chart.save("out.html", embed_options={"renderer": "svg", "actions": False})
